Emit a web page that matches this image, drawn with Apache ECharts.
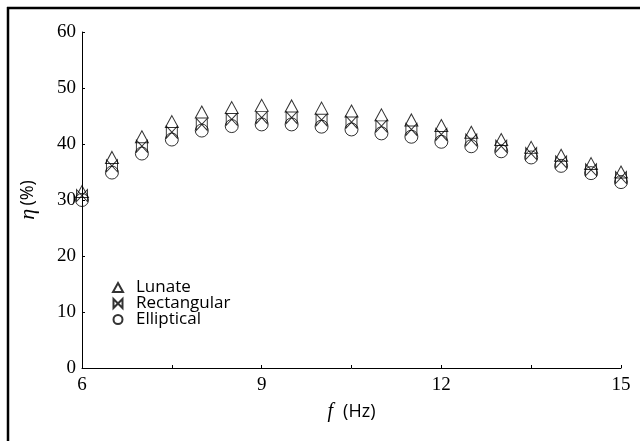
<!DOCTYPE html>
<html><head><meta charset="utf-8">
<script src="https://cdn.jsdelivr.net/npm/echarts@6/dist/echarts.min.js"></script>
<style>html,body{margin:0;padding:0;background:#fff}#c{width:640px;height:441px}</style>
</head><body><div id="c"></div>
<script>
const freq = [6, 6.5, 7, 7.5, 8, 8.5, 9, 9.5, 10, 10.5, 11, 11.5, 12, 12.5, 13, 13.5, 14, 14.5, 15];
const lunate = [31.5, 37.6, 41.3, 44.0, 45.7, 46.5, 46.9, 46.8, 46.4, 45.9, 45.2, 44.3, 43.3, 42.1, 40.8, 39.4, 38.0, 36.5, 35.0];
const rectangular = [30.8, 36.1, 39.6, 42.1, 43.5, 44.4, 44.7, 44.7, 44.3, 43.9, 43.2, 42.6, 41.7, 40.7, 39.6, 38.3, 36.8, 35.4, 34.0];
const elliptical = [30.0, 34.9, 38.3, 40.8, 42.4, 43.2, 43.5, 43.5, 43.1, 42.6, 41.9, 41.3, 40.4, 39.6, 38.7, 37.6, 36.1, 34.8, 33.2];
const xTicks = [6, 9, 12, 15];
const names = ['Lunate', 'Rectangular', 'Elliptical'];

const pair = a => a.map((v, i) => [freq[i], v]);
const bowtie = 'path://M0,0L10,10L10,0L0,10Z';
const hollow = {color: 'rgba(0,0,0,0)', borderColor: '#000', borderWidth: 1};

const chart = echarts.init(document.getElementById('c'));
chart.setOption({
  animation: false,
  backgroundColor: '#fff',
  grid: {left: 82, top: 32, right: 19, bottom: 73},
  legend: {
    orient: 'vertical', left: 107, top: 274, itemGap: -1,
    itemWidth: 10, itemHeight: 9,
    textStyle: {fontFamily: 'Open Sans', fontWeight: 500, fontSize: 17, color: '#000', padding: [0, 0, 0, 8]},
    data: names
  },
  xAxis: {
    type: 'value', min: 6, max: 15, interval: 1.5,
    axisLine: {lineStyle: {color: '#000', width: 1}},
    axisTick: {inside: true, length: 3, lineStyle: {color: '#000'}},
    splitLine: {show: false},
    axisLabel: {
      color: '#000', fontFamily: 'Liberation Serif', fontSize: 19, margin: 8,
      formatter: v => xTicks.includes(v) ? String(v) : ''
    },
    name: '{i|f}   {s|(Hz)}', nameLocation: 'middle', nameGap: 34,
    nameTextStyle: {rich: {
      i: {fontFamily: 'Liberation Serif', fontStyle: 'italic', fontSize: 20, color: '#000'},
      s: {fontFamily: 'Open Sans', fontWeight: 500, fontSize: 18, color: '#000'}
    }}
  },
  yAxis: {
    type: 'value', min: 0, max: 60, interval: 10,
    axisLine: {show: true, lineStyle: {color: '#000', width: 1}},
    axisTick: {show: true, inside: true, length: 3, lineStyle: {color: '#000'}},
    splitLine: {show: false},
    axisLabel: {color: '#000', fontFamily: 'Liberation Serif', fontSize: 19, margin: 6},
    name: '{i|η} {s|(%)}', nameLocation: 'middle', nameGap: 43, nameRotate: 90,
    nameTextStyle: {rich: {
      i: {fontFamily: 'Liberation Serif', fontStyle: 'italic', fontSize: 22, color: '#000'},
      s: {fontFamily: 'Open Sans', fontWeight: 500, fontSize: 18, color: '#000'}
    }}
  },
  graphic: [
    {type: 'line', shape: {x1: 8, y1: 7, x2: 8, y2: 441}, style: {stroke: '#000', lineWidth: 2.5}},
    {type: 'line', shape: {x1: 7, y1: 8, x2: 640, y2: 8}, style: {stroke: '#000', lineWidth: 2.5}}
  ],
  series: [
    {name: names[0], type: 'scatter', data: pair(lunate), symbol: 'triangle', symbolSize: [13, 12], itemStyle: hollow, z: 3},
    {name: names[1], type: 'scatter', data: pair(rectangular), symbol: bowtie, symbolSize: [11, 12], itemStyle: hollow, z: 4},
    {name: names[2], type: 'scatter', data: pair(elliptical), symbol: 'circle', symbolSize: 13, itemStyle: hollow, z: 2}
  ]
});
</script></body></html>
